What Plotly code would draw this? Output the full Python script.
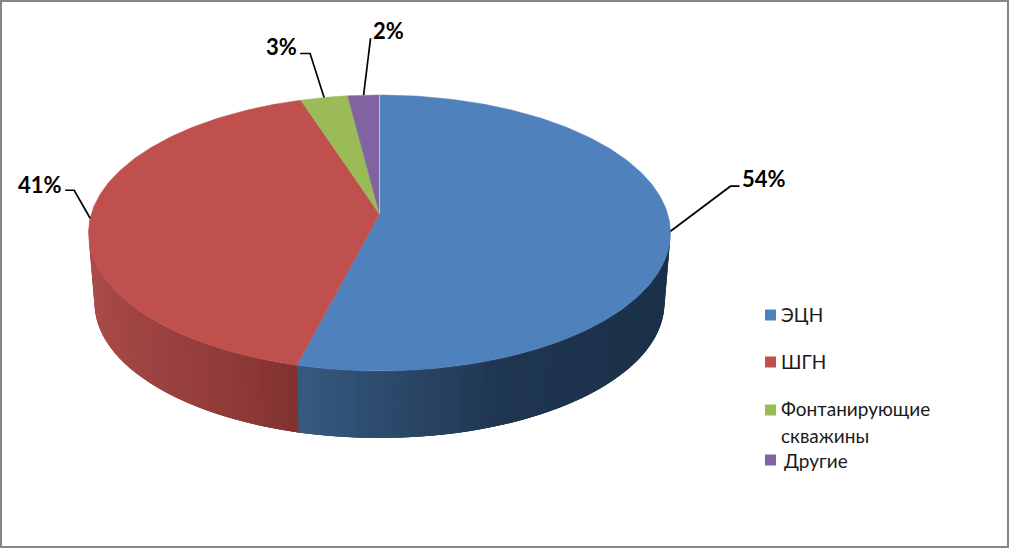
import math
import plotly.graph_objects as go

categories = ["ЭЦН", "ШГН", "Фонтанирующие<br>скважины", "Другие"]
shares = [54, 41, 3, 2]

colors = ["#4F81BD", "#C0504D", "#9BBB59", "#8064A2"]
FONT = "Lato, Carlito, 'Open Sans', sans-serif"

# Projection of the tilted disc onto the page (pixel-based axes)
CX, CY, RX, RY = 379.5, 233.0, 291.0, 138.0
BCY, BRX, BRY = 303.0, 285.0, 135.0
B = -0.138


def project(frac):
    """Share of the full turn (clockwise from 12 o'clock) -> unit ellipse coords."""
    a = 2 * math.pi * frac
    u, v = math.sin(a), -math.cos(a)
    d = 1 + B * v
    return u * math.sqrt(1 - B * B) / d, (v + B) / d


def to_px(up, vp):
    return CX + RX * up, CY + RY * vp


def lerp_color(stops, x):
    stops = sorted(stops)
    if x <= stops[0][0]:
        return "rgb(%d,%d,%d)" % stops[0][1]
    for (x0, c0), (x1, c1) in zip(stops, stops[1:]):
        if x <= x1:
            t = (x - x0) / (x1 - x0)
            return "rgb(%d,%d,%d)" % tuple(round(a + (b - a) * t) for a, b in zip(c0, c1))
    return "rgb(%d,%d,%d)" % stops[-1][1]


BLUE_WALL = [(296, (54, 90, 130)), (400, (43, 72, 104)), (500, (31, 54, 81)), (670, (27, 48, 72))]
RED_WALL = [(90, (171, 77, 74)), (120, (163, 70, 68)), (240, (142, 58, 56)), (298, (128, 49, 47))]

fig = go.Figure()

# Side wall: each strip overlaps the next one, painted from the outer edge to the seam
total = sum(shares)
bu, bv = project(shares[0] / total)
phib = math.atan2(bv, bu)
if phib < 0:
    phib += 2 * math.pi


def add_wall(phi_far, phi_seam, stops):
    step = math.radians(1.5)
    n = max(2, int(abs(phi_seam - phi_far) / step))
    for i in range(n):
        p0 = phi_far + (phi_seam - phi_far) * i / n
        p1 = phi_far + (phi_seam - phi_far) * (i + 1) / n
        p2 = phi_far + (phi_seam - phi_far) * min(n, i + 3) / n
        xs = [CX + RX * math.cos(p0), CX + RX * math.cos(p2),
              CX + BRX * math.cos(p2), CX + BRX * math.cos(p0)]
        ys = [CY + RY * math.sin(p0), CY + RY * math.sin(p2),
              BCY + BRY * math.sin(p2), BCY + BRY * math.sin(p0)]
        mx = CX + 0.5 * (RX + BRX) * math.cos(0.5 * (p0 + p1))
        col = lerp_color(stops, mx)
        fig.add_trace(go.Scatter(x=xs + xs[:1], y=ys + ys[:1], mode="lines", fill="toself",
                                 fillcolor=col, line=dict(width=0),
                                 showlegend=False, hoverinfo="skip"))


add_wall(0, phib, BLUE_WALL)
add_wall(math.pi, phib, RED_WALL)

# Top face slices
ax, ay = to_px(0, B)
cum = 0
mids = []
for name, val, col in zip(categories, shares, colors):
    f0, f1 = cum / total, (cum + val) / total
    mids.append((f0 + f1) / 2)
    n = max(4, int(val * 4))
    pts = [to_px(*project(f0 + (f1 - f0) * i / n)) for i in range(n + 1)]
    xs = [ax] + [p[0] for p in pts] + [ax]
    ys = [ay] + [p[1] for p in pts] + [ay]
    fig.add_trace(go.Scatter(x=xs, y=ys, mode="lines", fill="toself", fillcolor=col,
                             line=dict(color=col, width=0.5), showlegend=False,
                             hoverinfo="skip"))
    cum += val

# Faint seam at 12 o'clock
tx, ty = to_px(*project(0))
fig.add_trace(go.Scatter(x=[tx, ax], y=[ty, ay], mode="lines",
                         line=dict(color="rgba(220,220,240,0.7)", width=1),
                         showlegend=False, hoverinfo="skip"))

# Leader lines and labels (elbow and label offsets relative to the slice's anchor)
offsets = [((60, -45), (69, -45), (94, -53)),
           ((-16, -28), (-25, -28), (-50, -34)),
           ((-14, -44), (-24, -44), (-43, -51)),
           ((7, -57), (7, -57), (25, -65))]
annotations = []
for val, mid, off in zip(shares, mids, offsets):
    x0, y0 = to_px(*project(mid))
    xs = [x0, x0 + off[0][0], x0 + off[1][0]]
    ys = [y0, y0 + off[0][1], y0 + off[1][1]]
    fig.add_trace(go.Scatter(x=xs, y=ys, mode="lines", line=dict(color="#000000", width=1.7),
                             showlegend=False, hoverinfo="skip"))
    annotations.append(dict(x=x0 + off[2][0], y=y0 + off[2][1], xref="x", yref="y",
                            text=f"<b>{val}%</b>", showarrow=False,
                            font=dict(family=FONT, size=22, color="#000000")))

# Legend: swatches and left-aligned text placed as in the reference
swatch_x = 770.5
text_x = [779, 779, 779, 782]
swatch_y = [315, 362, 410, 460]
text_y = [314, 361, 408, 460]
line_gap = 27
for name, col, sy, ty_, lx in zip(categories, colors, swatch_y, text_y, text_x):
    fig.add_trace(go.Scatter(x=[swatch_x], y=[sy], mode="markers", name=name.replace("<br>", " "),
                             marker=dict(symbol="square", size=11, color=col), showlegend=False,
                             hoverinfo="skip"))
    for j, line in enumerate(name.split("<br>")):
        annotations.append(dict(x=lx, y=ty_ + j * line_gap, xref="x", yref="y", text=line,
                                showarrow=False, xanchor="left", yanchor="middle",
                                font=dict(family=FONT, size=19, color="#1A1A1A")))

fig.update_layout(
    width=1016, height=553, autosize=False,
    margin=dict(l=0, r=0, t=0, b=0),
    paper_bgcolor="#FFFFFF", plot_bgcolor="#FFFFFF",
    xaxis=dict(range=[0, 1016], visible=False, fixedrange=True),
    yaxis=dict(range=[553, 0], visible=False, fixedrange=True),
    annotations=annotations,
    shapes=[dict(type="rect", xref="x", yref="y", x0=1, y0=1, x1=1008, y1=547,
                 line=dict(color="#868686", width=2), layer="below")],
    showlegend=False,
)

fig.write_html("out.html", config={"displayModeBar": False},
               post_script="document.body.style.margin='0';document.documentElement.style.overflow='hidden';")
